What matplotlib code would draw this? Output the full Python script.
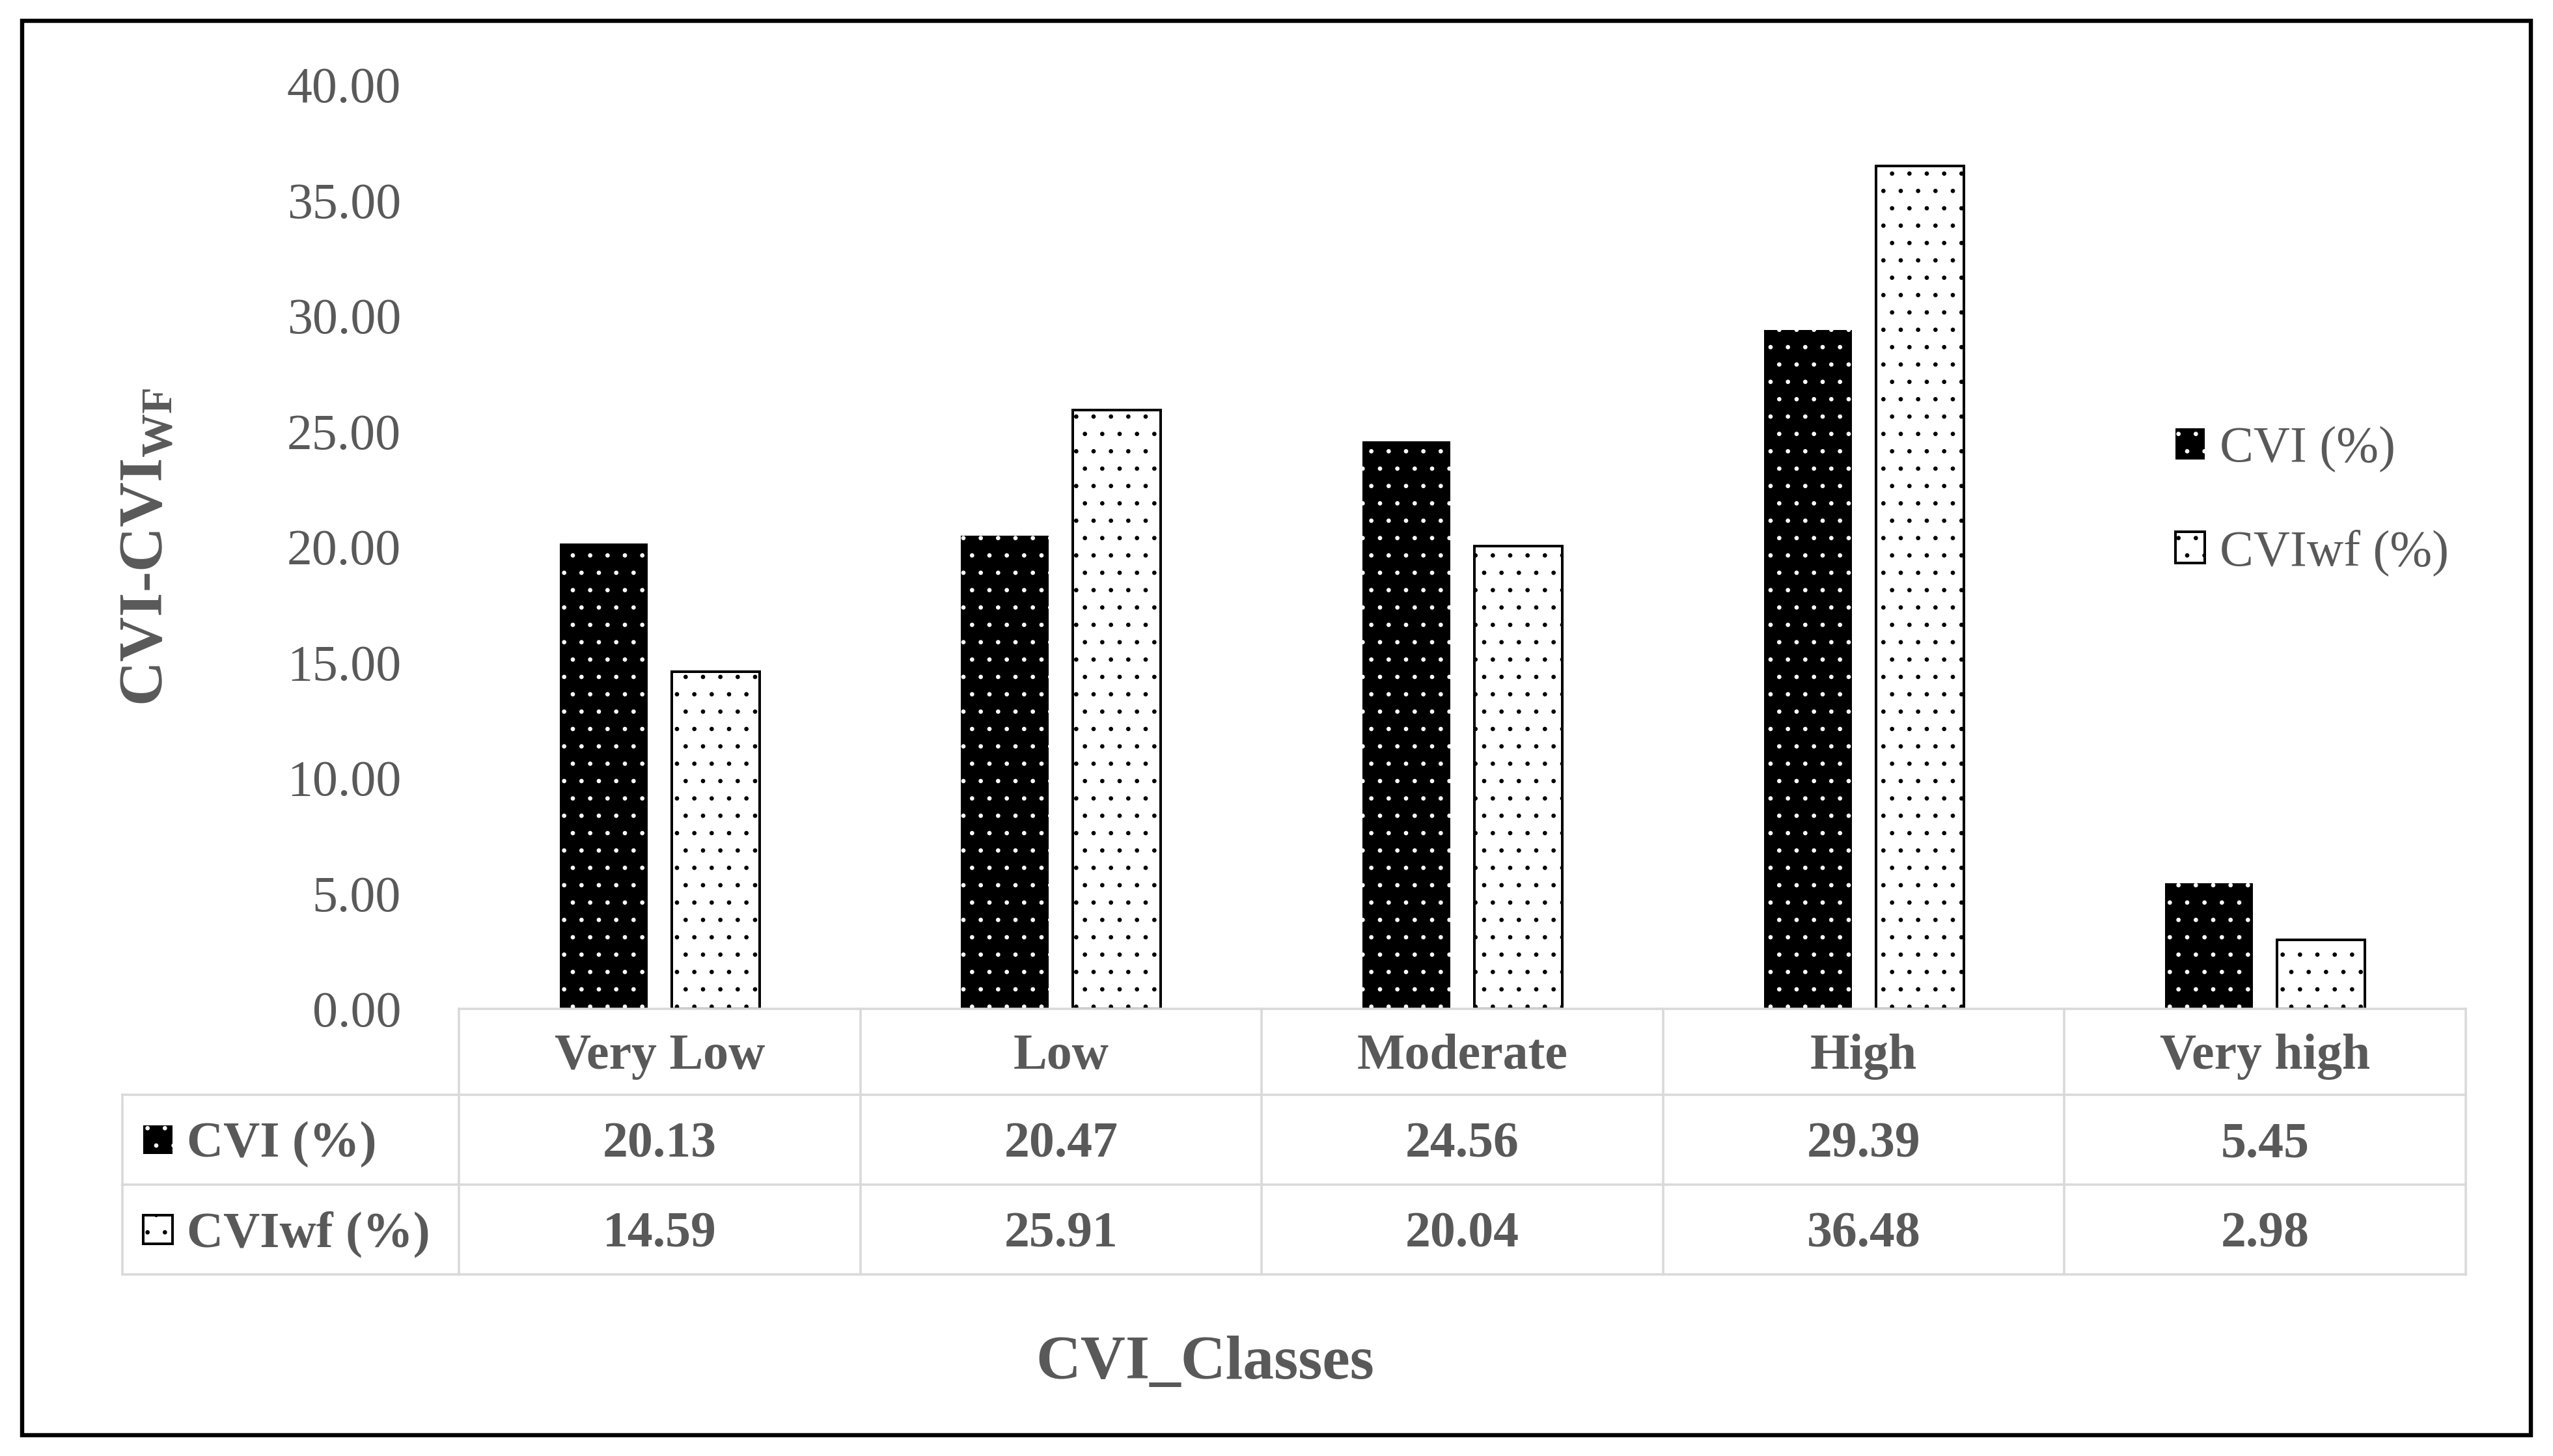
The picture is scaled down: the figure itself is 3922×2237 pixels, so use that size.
import numpy as np
import matplotlib.pyplot as plt
from matplotlib.patches import Rectangle
from matplotlib.lines import Line2D
from matplotlib.transforms import blended_transform_factory

# ── data ──────────────────────────────────────────────────────────────────
classes = ['Very Low', 'Low', 'Moderate', 'High', 'Very high']
cvi = [20.13, 20.47, 24.56, 29.39, 5.45]
cvi_wf = [14.59, 25.91, 20.04, 36.48, 2.98]
series_names = ['CVI (%)', 'CVIwf (%)']
y_ticks = np.arange(0, 45, 5)

# ── canvas (pixel layout helpers) ─────────────────────────────────────────
W, H, DPI = 3922, 2237, 160
grey_txt = '#595959'
grid_c = '#d9d9d9'

plt.rcParams.update({
    'font.family': 'Liberation Serif',
    'font.size': 35,
    'text.color': grey_txt,
    'hatch.linewidth': 0.6,
    'mathtext.fontset': 'custom',
    'mathtext.rm': 'Liberation Serif',
    'mathtext.bf': 'Liberation Serif:bold',
})


def fx(px):
    return px / W


def fy(py):
    return 1 - py / H


fig = plt.figure(figsize=(W / DPI, H / DPI), dpi=DPI)
AX_L, AX_R, AX_T, AX_B = 705, 3788, 130, 1550
ax = fig.add_axes([fx(AX_L), fy(AX_B), fx(AX_R) - fx(AX_L), fy(AX_T) - fy(AX_B)])

# ── bars ──────────────────────────────────────────────────────────────────
x = np.arange(len(classes))
bw, off = 0.219, 0.1395
black_style = dict(facecolor='black', edgecolor='white', linewidth=0, hatch='.')
white_style = dict(facecolor='white', edgecolor='black', linewidth=1.8, hatch='.')
b1 = ax.bar(x - off, cvi, bw, label=series_names[0], **black_style)
b2 = ax.bar(x + off, cvi_wf, bw, label=series_names[1], **white_style)

ax.set_xlim(-0.5, len(classes) - 0.5)
ax.set_ylim(0, 40)
ax.set_yticks(y_ticks)
ax.set_yticklabels([f'{v:.2f}' for v in y_ticks])
ax.tick_params(axis='y', length=0, pad=40, labelsize=35, labelcolor=grey_txt)
ax.set_xticks([])
for s in ax.spines.values():
    s.set_visible(False)

ax.set_ylabel('CVI-CVI$_{\\mathbf{WF}}$', fontsize=43, fontweight='bold',
              color=grey_txt)
ax.yaxis.set_label_coords(-0.141, 0.5)

fig.text(fx(1851), fy(2118), 'CVI_Classes', ha='center', va='baseline',
         fontsize=43, fontweight='bold', color=grey_txt)

# ── legend ────────────────────────────────────────────────────────────────
ax.legend(handles=[b1, b2], loc='upper left', frameon=False,
          bbox_to_anchor=(fx(3342), fy(655)), bbox_transform=fig.transFigure,
          borderpad=0, borderaxespad=0, handlelength=0.58, handleheight=0.58,
          handletextpad=0.3, labelspacing=1.12, fontsize=35)

# ── data table under the axis ────────────────────────────────────────────
ROW_Y = [1550, 1682, 1820, 1958]     # horizontal table rules (px from top)
TAB_L = 188                          # left edge of the row-label column
lw_tab = 1.6
bt = blended_transform_factory(ax.transData, fig.transFigure)

fig.add_artist(Line2D([fx(AX_L), fx(AX_R)], [fy(ROW_Y[0])] * 2,
                      color=grid_c, lw=lw_tab))
for py in ROW_Y[1:]:
    fig.add_artist(Line2D([fx(TAB_L), fx(AX_R)], [fy(py)] * 2,
                          color=grid_c, lw=lw_tab))
for xe in np.arange(-0.5, len(classes), 1.0):
    fig.add_artist(Line2D([xe, xe], [fy(ROW_Y[0]), fy(ROW_Y[-1])],
                          color=grid_c, lw=lw_tab, transform=bt))
fig.add_artist(Line2D([fx(TAB_L)] * 2, [fy(ROW_Y[1]), fy(ROW_Y[-1])],
                      color=grid_c, lw=lw_tab))

cap_half = 26
row_mid = [(ROW_Y[i] + ROW_Y[i + 1]) / 2 for i in range(3)]
for xi, name in zip(x, classes):
    ax.text(xi, fy(row_mid[0] + cap_half), name, transform=bt, ha='center',
            va='baseline', fontsize=35, fontweight='bold', color=grey_txt,
            clip_on=False)
for r, vals in enumerate([cvi, cvi_wf]):
    for xi, v in zip(x, vals):
        ax.text(xi, fy(row_mid[r + 1] + cap_half), f'{v:.2f}', transform=bt,
                ha='center', va='baseline', fontsize=35, fontweight='bold',
                color=grey_txt, clip_on=False)

# row labels with little swatches
for r, (name, style) in enumerate(zip(series_names, [black_style, white_style])):
    cy = row_mid[r + 1]
    sw = Rectangle((fx(220), fy(cy + 22)), fx(265) - fx(220), fy(cy - 22) - fy(cy + 22),
                   transform=fig.transFigure, **style)
    fig.add_artist(sw)
    fig.text(fx(287), fy(cy + cap_half), name, ha='left', va='baseline',
             fontsize=35, fontweight='bold', color=grey_txt)

# ── outer frame ───────────────────────────────────────────────────────────
fig.add_artist(Rectangle((fx(34), fy(2205)), fx(3888) - fx(34), fy(32) - fy(2205),
                         transform=fig.transFigure, fill=False,
                         edgecolor='black', linewidth=2.9))

fig.savefig('out.png', dpi=DPI, facecolor='white')
